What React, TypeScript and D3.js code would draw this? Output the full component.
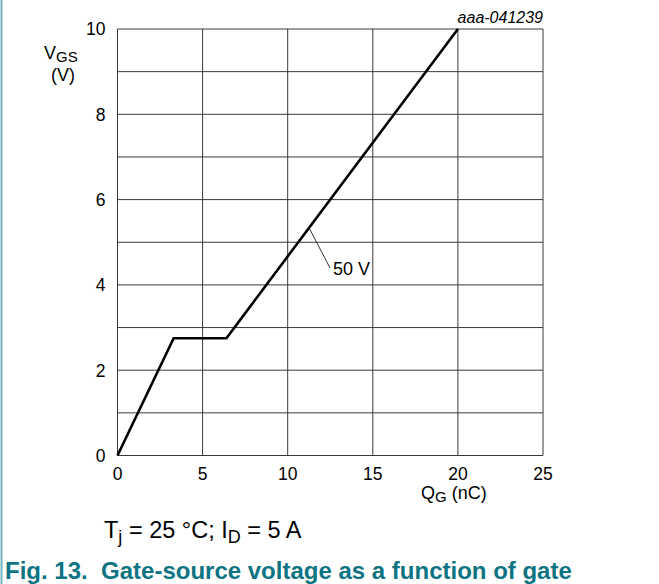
import React from "react";
import * as d3 from "d3";

const qValues = [0, 3.3, 6.4, 20];
const vValues = [0, 2.75, 2.75, 10];
const xTicks = [0, 5, 10, 15, 20, 25];
const yTicks = [0, 2, 4, 6, 8, 10];
const xGrid = [0, 5, 10, 15, 20, 25];
const yGrid = [0, 1, 2, 3, 4, 5, 6, 7, 8, 9, 10];
const seriesLabel = "50 V";
const labelAnchorV = 5.32;

const W = 659;
const H = 584;
const FONT = "'Liberation Sans', Arial, sans-serif";
const TEAL = "#0e7483";

export default function App() {
  const x = d3.scaleLinear().domain([0, 25]).range([117.5, 543]);
  const y = d3.scaleLinear().domain([0, 10]).range([455.5, 29]);
  const pts: [number, number][] = qValues.map((q, i) => [q, vValues[i]]);
  const line = d3
    .line<[number, number]>()
    .x((d) => x(d[0]))
    .y((d) => y(d[1]));

  const slope = (vValues[3] - vValues[2]) / (qValues[3] - qValues[2]);
  const anchorQ = qValues[2] + (labelAnchorV - vValues[2]) / slope;
  const ax = x(anchorQ);
  const ay = y(labelAnchorV);

  return (
    <svg
      width={W}
      height={H}
      style={{ position: "absolute", left: 0, top: 0, background: "#fff" }}
      fontFamily={FONT}
    >
      <line x1={1.5} x2={1.5} y1={0} y2={H} stroke="#6fb3bf" strokeWidth={2} />
      <g>
        {yGrid.map((v) => (
          <line
            key={"h" + v}
            x1={x(0)}
            x2={x(25)}
            y1={y(v)}
            y2={y(v)}
            stroke="#3a3a3a"
            strokeWidth={1}
          />
        ))}
        {xGrid.map((q) => (
          <line
            key={"v" + q}
            x1={x(q)}
            x2={x(q)}
            y1={y(0)}
            y2={y(10)}
            stroke="#3a3a3a"
            strokeWidth={1}
          />
        ))}
      </g>
      <path d={line(pts) || ""} fill="none" stroke="#000" strokeWidth={2.6} strokeLinejoin="miter" />
      <line x1={ax + 1} y1={ay} x2={330} y2={268} stroke="#000" strokeWidth={0.8} />
      <text x={333} y={275} fontSize={18} fill="#000">
        {seriesLabel}
      </text>
      {yTicks.map((v) => (
        <text key={"yt" + v} x={105.5} y={y(v) + 6.3} fontSize={17.5} textAnchor="end" fill="#000">
          {v}
        </text>
      ))}
      {xTicks.map((q) => (
        <text key={"xt" + q} x={x(q)} y={480} fontSize={17.5} textAnchor="middle" fill="#000">
          {q}
        </text>
      ))}
      <text x={44} y={58.5} fontSize={18} fill="#000">
        V<tspan fontSize={15} dy={3}>GS</tspan>
      </text>
      <text x={63} y={81} fontSize={18} textAnchor="middle" fill="#000">
        (V)
      </text>
      <text x={421} y={499} fontSize={18} fill="#000">
        Q<tspan fontSize={15} dy={3}>G</tspan>
        <tspan dy={-3}> (nC)</tspan>
      </text>
      <text x={543} y={23} fontSize={16} fontStyle="italic" textAnchor="end" fill="#000">
        aaa-041239
      </text>
      <text x={104} y={538} fontSize={23.5} fill="#000">
        T<tspan fontSize={18} dy={5}>j</tspan>
        <tspan dy={-5}> = 25 °C; I</tspan>
        <tspan fontSize={18} dy={5}>D</tspan>
        <tspan dy={-5}> = 5 A</tspan>
      </text>
      <text x={5} y={579} fontSize={24} fontWeight="bold" fill={TEAL}>
        Fig. 13.{"\u00a0\u00a0"}Gate-source voltage as a function of gate
      </text>
    </svg>
  );
}
